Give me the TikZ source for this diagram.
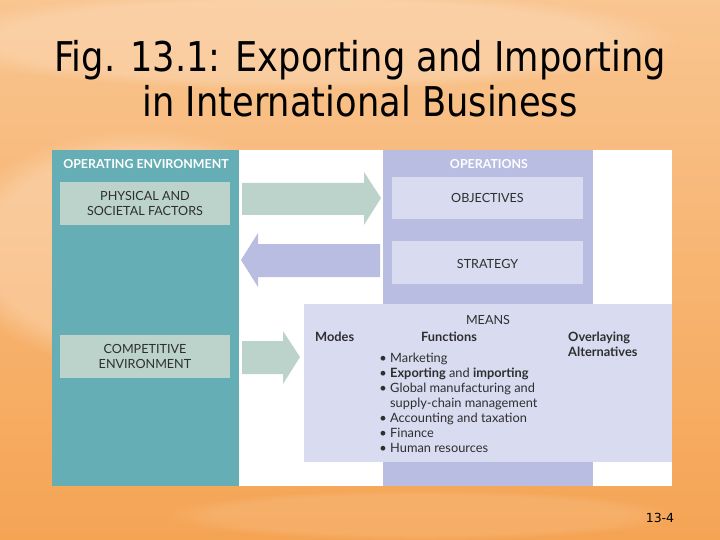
\documentclass[tikz,border=0pt]{standalone}
\usepackage{fontspec}
\setmainfont{Lato}
\newfontfamily\titlefont{DejaVu Sans}
\usetikzlibrary{fadings}
\definecolor{teal1}{HTML}{66AEB6}
\definecolor{sage}{HTML}{BBD3CB}
\definecolor{lav}{HTML}{B9BDE1}
\definecolor{lavlight}{HTML}{D9DCF1}
\definecolor{txt}{HTML}{2E2E2E}
\definecolor{orTop}{HTML}{F9C590}
\definecolor{orBot}{HTML}{F5A454}
\tikzset{
  panelbox/.style={inner sep=0pt, outer sep=0pt, draw=none},
  titletext/.style={font=\titlefont\fontsize{41}{48}\selectfont, text=black, inner sep=0pt, anchor=base},
  hdtext/.style={font=\fontsize{12.4}{14}\selectfont\bfseries, text=white, anchor=base, inner sep=0pt},
  captext/.style={font=\fontsize{12.6}{14}\selectfont, text=txt, anchor=base, inner sep=0pt},
  bodytext/.style={font=\fontsize{12.8}{14}\selectfont, text=txt, anchor=base west, inner sep=0pt},
  boldtext/.style={bodytext, font=\fontsize{12.8}{14}\selectfont\bfseries},
}
\begin{document}
\begin{tikzpicture}[x=1pt,y=-1pt]
\useasboundingbox (0,0) rectangle (720,540);
% background
\shade[top color=orTop, bottom color=orBot] (0,0) rectangle (720,540);
\fill[white, opacity=0.25, path fading=circle with fuzzy edge 20 percent] (140,250) ellipse (190 and 120);
\fill[white, opacity=0.2, path fading=circle with fuzzy edge 20 percent] (300,40) ellipse (380 and 50);
\fill[white, opacity=0.1, path fading=circle with fuzzy edge 20 percent] (420,515) ellipse (260 and 25);
% title
\node[titletext] (title1) at (360,72) {\scalebox{0.86}[1]{Fig. 13.1: Exporting and Importing}};
\node[titletext] (title2) at (360,117) {\scalebox{0.86}[1]{in International Business}};
% white panel
\node[panelbox, fill=white, minimum width=620, minimum height=336] (frame) at (362,318) {};
% operating environment
\node[panelbox, fill=teal1, minimum width=187, minimum height=336] (env) at (145.5,318) {};
\node[hdtext] (envt) at (146,168.5) {OPERATING ENVIRONMENT};
\node[panelbox, fill=sage, minimum width=170, minimum height=43] (phys) at (145,203.5) {};
\node[captext] (phys1) at (145,200.5) {PHYSICAL AND};
\node[captext] (phys2) at (145,215.5) {SOCIETAL FACTORS};
\node[panelbox, fill=sage, minimum width=170, minimum height=43] (comp) at (145,356.5) {};
\node[captext] (comp1) at (145,353.5) {COMPETITIVE};
\node[captext] (comp2) at (145,368.5) {ENVIRONMENT};
% operations
\node[panelbox, fill=lav, minimum width=210, minimum height=336] (ops) at (488,318) {};
\node[hdtext] (opst) at (489,168.5) {OPERATIONS};
\node[panelbox, fill=lavlight, minimum width=191, minimum height=42] (obj) at (487.5,198) {};
\node[captext] (objt) at (487.5,202.5) {OBJECTIVES};
\node[panelbox, fill=lavlight, minimum width=191, minimum height=43] (strat) at (487.5,262.5) {};
\node[captext] (stratt) at (487.5,268) {STRATEGY};
\node[panelbox, fill=lavlight, minimum width=368, minimum height=158] (means) at (488,383) {};
\node[captext] (meanst) at (488,324.5) {MEANS};
\node[boldtext] (modes) at (315,341) {Modes};
\node[boldtext, anchor=base] (func) at (449,341) {Functions};
\node[boldtext] (over1) at (568,341) {Overlaying};
\node[boldtext] (over2) at (568,356) {Alternatives};
% bullet list
\foreach \i/\yy/\bul/\t in {
  1/362/1/{Marketing},
  2/377/1/{\textbf{Exporting} and \textbf{importing}},
  3/392/1/{Global manufacturing and},
  4/407/0/{supply-chain management},
  5/422/1/{Accounting and taxation},
  6/437/1/{Finance},
  7/452/1/{Human resources}}{
  \node[bodytext] (f\i) at (390,\yy) {\t};
  \ifnum\bul=1 \node[bodytext, anchor=base east] (b\i) at (387,\yy) {\textbullet};\fi
}
% fat arrows
\fill[sage] (242,183) -- (364,183) -- (364,172) -- (381,198) -- (364,225) -- (364,215) -- (242,215) -- cycle;
\fill[lav] (380,244) -- (258,244) -- (258,233) -- (241,260) -- (258,287) -- (258,277) -- (380,277) -- cycle;
\fill[sage] (242,341) -- (283,341) -- (283,331) -- (300,357) -- (283,384) -- (283,374) -- (242,374) -- cycle;
% slide number
\node[font=\titlefont\fontsize{12.5}{14}\selectfont, text=black, anchor=base, inner sep=0pt] (num) at (660,522) {13-4};
\end{tikzpicture}
\end{document}
